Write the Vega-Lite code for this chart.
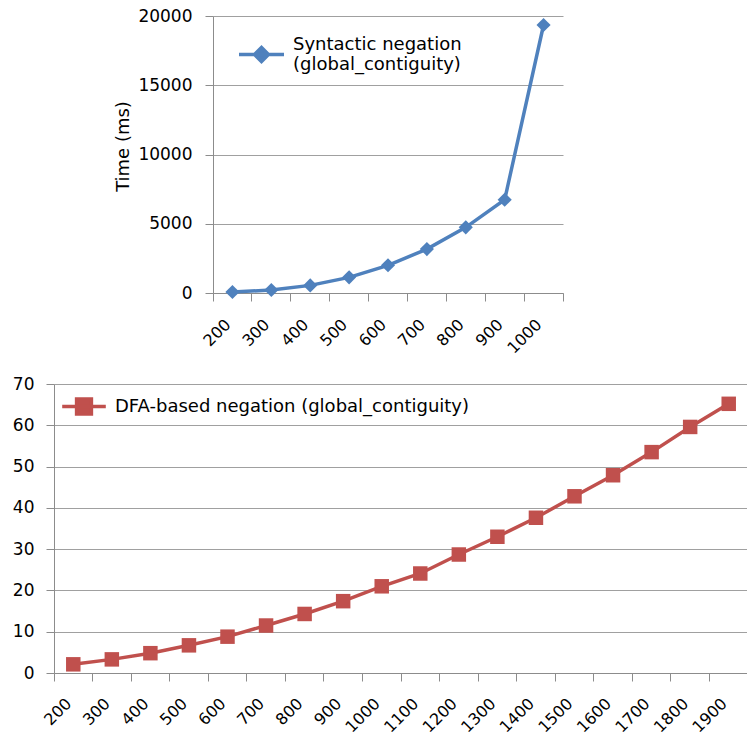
{
  "$schema": "https://vega.github.io/schema/vega-lite/v6.json",
  "padding": {"left": 12, "top": 7, "right": 0, "bottom": 0},
  "background": "white",
  "datasets": {
    "syn": [
      {"n": 200, "t": 70, "series": "Syntactic negation|(global_contiguity)"},
      {"n": 300, "t": 220, "series": "Syntactic negation|(global_contiguity)"},
      {"n": 400, "t": 550, "series": "Syntactic negation|(global_contiguity)"},
      {"n": 500, "t": 1130, "series": "Syntactic negation|(global_contiguity)"},
      {"n": 600, "t": 2000, "series": "Syntactic negation|(global_contiguity)"},
      {"n": 700, "t": 3170, "series": "Syntactic negation|(global_contiguity)"},
      {"n": 800, "t": 4740, "series": "Syntactic negation|(global_contiguity)"},
      {"n": 900, "t": 6730, "series": "Syntactic negation|(global_contiguity)"},
      {"n": 1000, "t": 19350, "series": "Syntactic negation|(global_contiguity)"}
    ],
    "dfa": [
      {"n": 200, "t": 2.1, "series": "DFA-based negation (global_contiguity)"},
      {"n": 300, "t": 3.3, "series": "DFA-based negation (global_contiguity)"},
      {"n": 400, "t": 4.8, "series": "DFA-based negation (global_contiguity)"},
      {"n": 500, "t": 6.7, "series": "DFA-based negation (global_contiguity)"},
      {"n": 600, "t": 8.8, "series": "DFA-based negation (global_contiguity)"},
      {"n": 700, "t": 11.5, "series": "DFA-based negation (global_contiguity)"},
      {"n": 800, "t": 14.3, "series": "DFA-based negation (global_contiguity)"},
      {"n": 900, "t": 17.4, "series": "DFA-based negation (global_contiguity)"},
      {"n": 1000, "t": 21.0, "series": "DFA-based negation (global_contiguity)"},
      {"n": 1100, "t": 24.1, "series": "DFA-based negation (global_contiguity)"},
      {"n": 1200, "t": 28.7, "series": "DFA-based negation (global_contiguity)"},
      {"n": 1300, "t": 33.0, "series": "DFA-based negation (global_contiguity)"},
      {"n": 1400, "t": 37.6, "series": "DFA-based negation (global_contiguity)"},
      {"n": 1500, "t": 42.8, "series": "DFA-based negation (global_contiguity)"},
      {"n": 1600, "t": 47.9, "series": "DFA-based negation (global_contiguity)"},
      {"n": 1700, "t": 53.5, "series": "DFA-based negation (global_contiguity)"},
      {"n": 1800, "t": 59.6, "series": "DFA-based negation (global_contiguity)"},
      {"n": 1900, "t": 65.2, "series": "DFA-based negation (global_contiguity)"}
    ]
  },
  "spacing": 18,
  "resolve": {"scale": {"color": "independent"}, "legend": {"color": "independent"}},
  "vconcat": [
    {
      "spacing": 0,
      "resolve": {"scale": {"color": "independent"}, "legend": {"color": "independent"}},
      "hconcat": [
        {
          "width": 60,
          "height": 10,
          "view": {"fill": "white", "stroke": null},
          "data": {"values": []},
          "mark": "point",
          "encoding": {}
        },
        {
          "width": 350,
          "height": 277,
          "data": {"name": "syn"},
          "encoding": {
            "x": {
              "field": "n",
              "type": "ordinal",
              "bandPosition": 0.5,
              "scale": {"type": "band", "paddingInner": 0, "paddingOuter": 0},
              "axis": {
                "title": null,
                "labelAngle": -45,
                "bandPosition": 1,
                "tickExtra": true,
                "labelOffset": -10,
                "labelPadding": 15,
                "labelFontSize": 16,
                "grid": false
              }
            },
            "y": {
              "field": "t",
              "type": "quantitative",
              "scale": {"domain": [0, 20000], "nice": false},
              "axis": {
                "title": "Time (ms)",
                "format": "d",
                "values": [0, 5000, 10000, 15000, 20000],
                "labelPadding": 13,
                "titlePadding": 5,
                "titleFontSize": 18,
                "titleFontWeight": "normal",
                "titleColor": "#000",
                "titleY": 130
              }
            }
          },
          "layer": [
            {"mark": {"type": "line", "color": "#4F81BD", "strokeWidth": 3.5}},
            {
              "mark": {"type": "point", "shape": "diamond", "filled": true, "size": 200, "opacity": 1},
              "encoding": {
                "color": {
                  "field": "series",
                  "type": "nominal",
                  "scale": {"range": ["#4F81BD"]},
                  "legend": {
                    "title": null,
                    "orient": "none",
                    "legendX": 24,
                    "legendY": 4,
                    "padding": 0,
                    "symbolType": "M-1,0.444L1,0.444M0,0.134L0.31,0.444L0,0.754L-0.31,0.444Z",
                    "symbolSize": 2025,
                    "symbolStrokeWidth": 3.5,
                    "symbolStrokeColor": "#4F81BD",
                    "symbolFillColor": "#4F81BD",
                    "symbolOpacity": 1,
                    "labelFontSize": 18,
                    "labelOffset": 7,
                    "labelLimit": 500,
                    "labelExpr": "split(datum.label, '|')"
                  }
                }
              }
            }
          ]
        }
      ]
    },
    {
      "width": 694,
      "height": 289,
      "data": {"name": "dfa"},
      "encoding": {
        "x": {
          "field": "n",
          "type": "ordinal",
          "bandPosition": 0.5,
          "scale": {"type": "band", "paddingInner": 0, "paddingOuter": 0},
          "axis": {
            "title": null,
            "labelAngle": -45,
            "bandPosition": 1,
            "tickExtra": true,
            "labelOffset": -10,
            "labelPadding": 14,
            "labelFontSize": 16,
            "grid": false
          }
        },
        "y": {
          "field": "t",
          "type": "quantitative",
          "scale": {"domain": [0, 70], "nice": false},
          "axis": {
            "title": null,
            "values": [0, 10, 20, 30, 40, 50, 60, 70],
            "labelPadding": 12
          }
        }
      },
      "layer": [
        {"mark": {"type": "line", "color": "#C0504D", "strokeWidth": 3.5}},
        {
          "mark": {"type": "point", "shape": "square", "filled": true, "size": 210, "opacity": 1},
          "encoding": {
            "color": {
              "field": "series",
              "type": "nominal",
              "scale": {"range": ["#C0504D"]},
              "legend": {
                "title": null,
                "orient": "none",
                "legendX": 6,
                "legendY": -1.5,
                "padding": 0,
                "symbolType": "M-1,0L1,0M-0.34,-0.34L0.34,-0.34L0.34,0.34L-0.34,0.34Z",
                "symbolSize": 1900,
                "symbolStrokeWidth": 3.5,
                "symbolStrokeColor": "#C0504D",
                "symbolFillColor": "#C0504D",
                "symbolOpacity": 1,
                "labelFontSize": 18,
                "labelOffset": 7,
                "labelLimit": 600
              }
            }
          }
        }
      ]
    }
  ],
  "config": {
    "view": {"stroke": null},
    "font": "DejaVu Sans",
    "axis": {
      "labelFont": "DejaVu Sans",
      "labelFontSize": 17,
      "labelColor": "#000",
      "titleFont": "DejaVu Sans",
      "domainColor": "#8c8c8c",
      "tickColor": "#8c8c8c",
      "gridColor": "#a0a0a0",
      "tickSize": 8,
      "domainWidth": 1,
      "gridWidth": 1
    },
    "axisX": {"grid": false},
    "axisY": {"grid": true, "domain": true, "ticks": true},
    "legend": {"labelFont": "DejaVu Sans", "labelColor": "#000"}
  }
}
